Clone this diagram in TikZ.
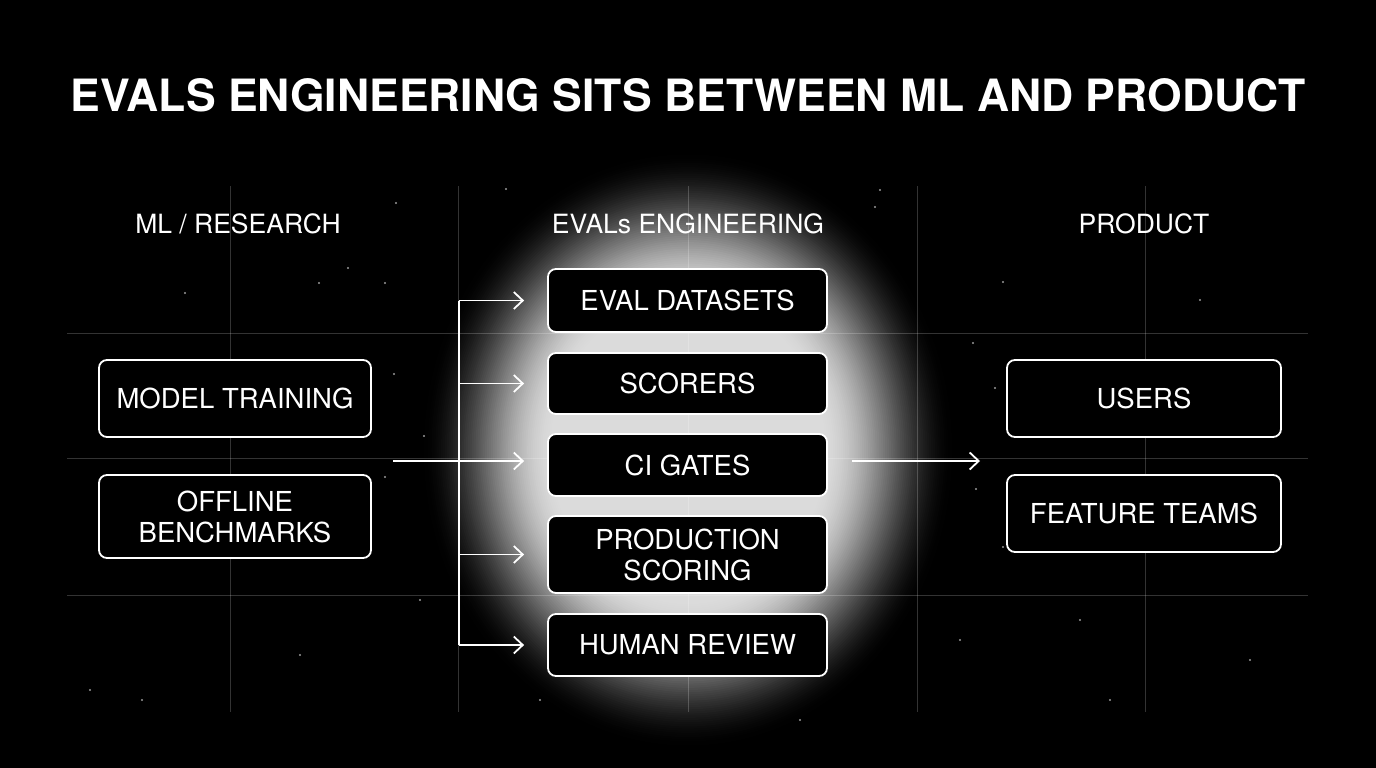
\documentclass[tikz,border=0pt]{standalone}
\usepackage{fontspec}
\setmainfont{TeX Gyre Heros}
\usetikzlibrary{arrows.meta}
\tikzset{
  gridline/.style={white, opacity=0.2, line width=1pt},
  box/.style={draw=white, line width=1.8pt, rounded corners=8pt, fill=black, text=white,
    inner sep=0pt, align=center, font=\fontsize{27.5}{31}\selectfont},
  lbox/.style={box, minimum width=272pt},
  mbox/.style={box, minimum width=279pt},
  rbox/.style={box, minimum width=274pt},
  header/.style={text=white, font=\fontsize{26.5}{30}\selectfont, inner sep=0pt},
  arr/.style={white, line width=1.8pt, -{Straight Barb[length=9pt,width=17pt,line width=1.8pt]}},
  flow/.style={white, line width=1.8pt},
  star/.style={white, opacity=0.6}
}
\begin{document}
\begin{tikzpicture}[x=1pt,y=-1pt]
\fill[black] (0,0) rectangle (1376,768);
\useasboundingbox (0,0) rectangle (1376,768);
% glow: stacked ellipses from dark outside to bright centre
\foreach \i in {0,...,139} {
  \pgfmathsetmacro\rr{1-\i/140}
  \pgfmathsetmacro\tt{max(0,min(1,(\rr-0.5)/0.5))}
  \pgfmathsetmacro\gl{86*(1-\tt*\tt*(3-2*\tt))}
  \fill[white!\gl!black] (688,450) ellipse ({268*\rr} and {300*\rr});
}
% grid
\foreach \x in {230,458,688,917,1145} \draw[gridline] (\x,186) -- (\x,712);
\foreach \y in {333,458,595} \draw[gridline] (67,\y) -- (1308,\y);
% stars
\foreach \p in {(396,203),(348,268),(319,283),(385,283),(185,293),(394,374),(424,436),(385,477),(138,218),(1003,282),(973,343),(995,388),(1003,547),(976,489),(1080,620),(960,640),(1200,300),(1250,660),(300,655),(90,690),(142,700),(420,600),(880,190),(1110,700),(800,720),(540,700),(506,189),(875,207)}
  \fill[star] \p circle (1.1pt);
% title
\node[text=white, font=\fontsize{44.5}{50}\bfseries\selectfont, inner sep=0pt] (title) at (688,95) {EVALS ENGINEERING SITS BETWEEN ML AND PRODUCT};
% headers
\node[header] (h1) at (238,224) {ML / RESEARCH};
\node[header] (h2) at (688,224) {EVALs ENGINEERING};
\node[header] (h3) at (1144,224) {PRODUCT};
% left boxes
\node[lbox, minimum height=77pt] (mt) at (235,398.5) {MODEL TRAINING};
\node[lbox, minimum height=83pt] (ob) at (235,516.5) {OFFLINE\\BENCHMARKS};
% middle boxes
\node[mbox, minimum height=63pt] (ed) at (687.5,300.5) {EVAL DATASETS};
\node[mbox, minimum height=61pt] (sc) at (687.5,383.5) {SCORERS};
\node[mbox, minimum height=62pt] (ci) at (687.5,465) {CI GATES};
\node[mbox, minimum height=77pt] (ps) at (687.5,554.5) {PRODUCTION\\SCORING};
\node[mbox, minimum height=62pt] (hr) at (687.5,645) {HUMAN REVIEW};
% right boxes
\node[rbox, minimum height=77pt] (us) at (1144,398.5) {USERS};
\node[rbox, minimum height=77pt] (ft) at (1144,513.5) {FEATURE TEAMS};
% connectors
\coordinate (in) at (393,461);
\coordinate (bus) at (459,461);
\coordinate (out) at (980,461);
\draw[flow] (bus |- ed) -- (bus |- hr);
\draw[flow] (in) -- (bus);
\draw[arr] (bus |- ed) -- ([xshift=-23pt]ed.west);
\draw[arr] (bus |- sc) -- ([xshift=-23pt]sc.west);
\draw[arr] (bus) -- ([xshift=-23pt]ci.west |- bus);
\draw[arr] (bus |- ps) -- ([xshift=-23pt]ps.west);
\draw[arr] (bus |- hr) -- ([xshift=-23pt]hr.west);
\draw[arr] ([xshift=24pt]ci.east |- bus) -- (out);
\end{tikzpicture}
\end{document}
